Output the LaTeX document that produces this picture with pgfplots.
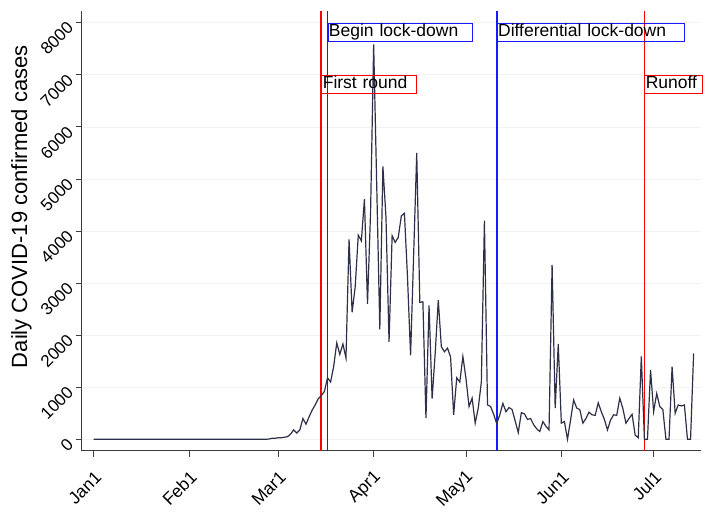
\documentclass[border=0pt]{standalone}
\usepackage{fontspec}
\setmainfont{Liberation Sans}
\usepackage{pgfplots}
\pgfplotsset{compat=1.18}
\definecolor{serie}{RGB}{45,48,72}
\definecolor{vred}{RGB}{255,0,0}
\definecolor{vblue}{RGB}{25,25,255}
\definecolor{axgray}{RGB}{60,60,60}
\begin{document}
\begin{tikzpicture}
\begin{axis}[
  scale only axis, width=619.3pt, height=439.7pt,
  xmin=-3.9, xmax=197.4, ymin=-219, ymax=8223,
  axis x line*=bottom, axis y line*=left,
  axis line style={axgray, line width=0.7pt},
  xtick={0,31,60,91,121,152,182},
  xticklabels={Jan1,Feb1,Mar1,Apr1,May1,Jun1,Jul1},
  ytick={0,1000,2000,3000,4000,5000,6000,7000,8000},
  scaled y ticks=false,
  /pgf/number format/assume math mode=true,
  yticklabel style={/pgf/number format/set thousands separator={}},
  tick align=outside, major tick length=6pt,
  tick style={axgray, line width=0.7pt},
  xticklabel shift=15pt, yticklabel shift=3pt,
  x tick label style={xshift=7pt, rotate=45, anchor=east, font=\fontsize{17.5}{19}\selectfont},
  y tick label style={rotate=45, anchor=east, font=\fontsize{17}{19}\selectfont},
  ymajorgrids, grid style={black!5, line width=0.5pt},
  ylabel={Daily COVID-19 confirmed cases},
  ylabel style={at={(axis description cs:-0.0972,0.555)}, anchor=center, font=\fontsize{22}{24}\selectfont},
  clip=false,
]
\addplot[color=vred, line width=1.8pt, forget plot] coordinates {(74,-219) (74,8223)};
\addplot[color=vblue, line width=1.8pt, forget plot] coordinates {(76,-219) (76,8223)};
\addplot[color=vblue, line width=1.8pt, forget plot] coordinates {(131,-219) (131,8223)};
\addplot[color=vred, line width=1.8pt, forget plot] coordinates {(179,-219) (179,8223)};

\addplot[color=serie, line width=1.2pt] coordinates {
(0,0) (1,0) (2,0) (3,0) (4,0) (5,0) (6,0) (7,0) (8,0) (9,0)
(10,0) (11,0) (12,0) (13,0) (14,0) (15,0) (16,0) (17,0) (18,0) (19,0)
(20,0) (21,0) (22,0) (23,0) (24,0) (25,0) (26,0) (27,0) (28,0) (29,0)
(30,0) (31,0) (32,0) (33,0) (34,0) (35,0) (36,0) (37,0) (38,0) (39,0)
(40,0) (41,0) (42,0) (43,0) (44,0) (45,0) (46,0) (47,0) (48,0) (49,0)
(50,0) (51,0) (52,0) (53,0) (54,0) (55,0) (56,0) (57,5) (58,20) (59,20)
(60,30) (61,30) (62,40) (63,50) (64,100) (65,180) (66,120) (67,180) (68,400) (69,290)
(70,430) (71,560) (72,660) (73,780) (74,840) (75,920) (76,1180) (77,1100) (78,1400) (79,1850)
(80,1630) (81,1830) (82,1560) (83,3840) (84,2440) (85,2930) (86,3920) (87,3810) (88,4610) (89,2600)
(90,4380) (91,7580) (92,4860) (93,2110) (94,5240) (95,4270) (96,1870) (97,3910) (98,3780) (99,3880)
(100,4290) (101,4340) (102,3110) (103,1610) (104,3550) (105,5500) (106,2630) (107,2640) (108,405) (109,2570)
(110,780) (111,1650) (112,2670) (113,1780) (114,1680) (115,1750) (116,1580) (117,470) (118,1180) (119,1100)
(120,1590) (121,1170) (122,630) (123,790) (124,310) (125,600) (126,1100) (127,4200) (128,660) (129,630)
(130,480) (131,300) (132,470) (133,690) (134,530) (135,610) (136,570) (137,350) (138,130) (139,510)
(140,490) (141,380) (142,400) (143,280) (144,200) (145,150) (146,340) (147,250) (148,180) (149,3350)
(150,600) (151,1830) (152,310) (153,340) (154,0) (155,370) (156,755) (157,600) (158,570) (159,310)
(160,400) (161,520) (162,470) (163,460) (164,700) (165,530) (166,380) (167,180) (168,370) (169,470)
(170,460) (171,790) (172,590) (173,310) (174,400) (175,480) (176,80) (177,30) (178,1590) (179,0)
(180,0) (181,1330) (182,530) (183,880) (184,630) (185,570) (186,0) (187,0) (188,1395) (189,500)
(190,660) (191,640) (192,660) (193,0) (194,0) (195,1650)
};

\tikzset{lbl/.style={anchor=north west, font=\fontsize{17.5}{19}\selectfont, align=left,
  inner xsep=1pt, inner ysep=1.2pt, text height=12.6pt, text depth=3.7pt, line width=0.9pt}}
\node[lbl, draw=vblue, text width=142pt] at (axis cs:76,8000) {Begin lock-down};
\node[lbl, draw=vred, text width=92.7pt] at (axis cs:74,7000) {First round};
\node[lbl, draw=vblue, text width=185.3pt] at (axis cs:131,8000) {Differential lock-down};
\node[lbl, draw=vred, text width=55.4pt] at (axis cs:179,7000) {Runoff};
\end{axis}
\pgfresetboundingbox
\path (-81.7pt,-60.3pt) rectangle (632.3pt,450.7pt);
\end{tikzpicture}
\end{document}
